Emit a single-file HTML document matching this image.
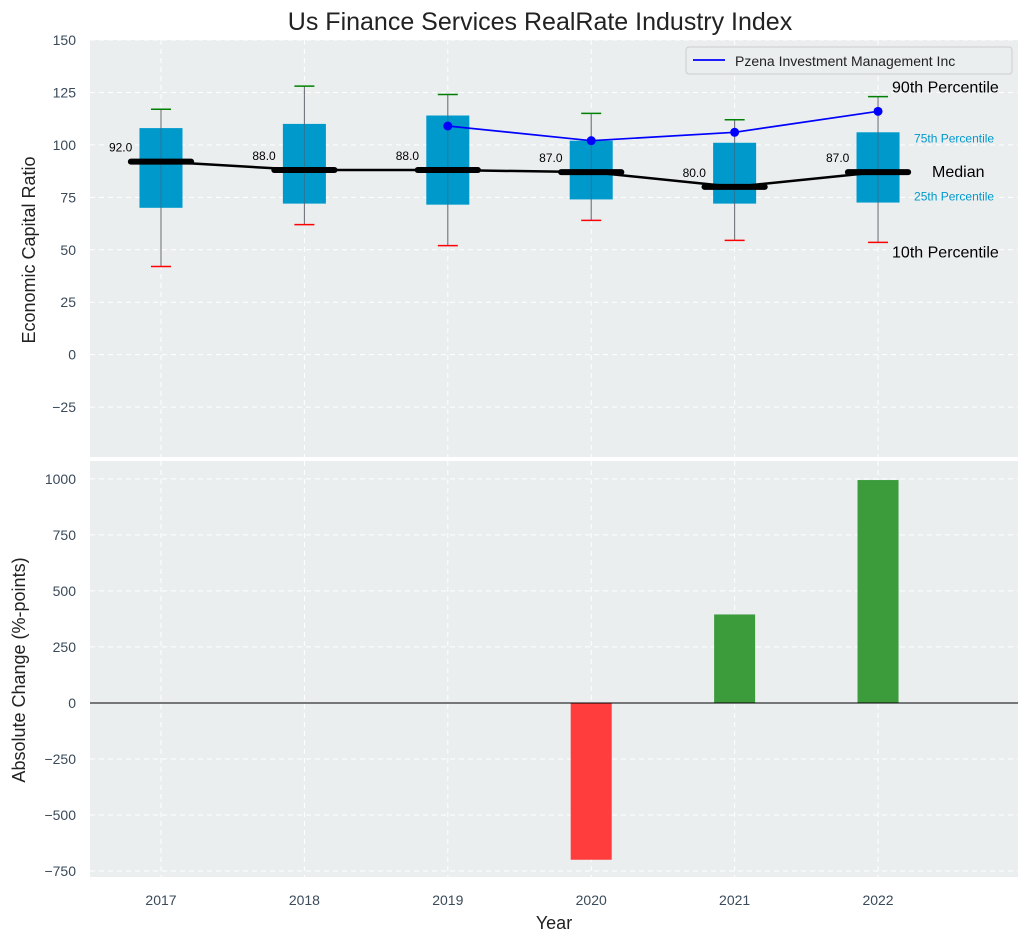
<!DOCTYPE html>
<html><head><meta charset="utf-8"><style>
body{margin:0;background:#fff;}
svg{font-family:"Liberation Sans","DejaVu Sans",sans-serif;}
</style></head><body>
<svg id="chart" width="1029" height="942" xmlns="http://www.w3.org/2000/svg"></svg>
<script>
const years=[2017,2018,2019,2020,2021,2022];
const p10=[42,62,52,64,54.5,53.5];
const p25=[70,72,71.5,74,72,72.5];
const med=[92,88,88,87,80,87];
const p75=[108,110,114,102,101,106];
const p90=[117,128,124,115,112,123];
const pzYears=[2019,2020,2021,2022];
const pzVals=[109,102,106,116];
const changes=[null,null,null,-700,395,995];
const topTicks=[150,125,100,75,50,25,0,-25];
const botTicks=[1000,750,500,250,0,-250,-500,-750];

const svg=document.getElementById('chart');
const NS='http://www.w3.org/2000/svg';
function el(tag,attrs,parent,text){const e=document.createElementNS(NS,tag);for(const k in attrs)e.setAttribute(k,attrs[k]);if(text!==undefined)e.textContent=text;(parent||svg).appendChild(e);return e;}
const L=90,R=1018;
const X0=2016.505,X1=2022.976;
const X=v=>L+(v-X0)/(X1-X0)*(R-L);
const T0=40,T1=457,B0=461,B1=877;
const Yt=v=>T0+(150-v)/(150-(-48.8))*(T1-T0);
const Yb=v=>B0+(1080-v)/(1080-(-777))*(B1-B0);

let t=el('text',{x:540,y:30,'text-anchor':'middle','font-size':25,fill:'#222'},svg,'Us Finance Services RealRate Industry Index');


let pt=el('rect',{x:L,y:T0,width:R-L,height:T1-T0,fill:'#eaeeef'});

let pb=el('rect',{x:L,y:B0,width:R-L,height:B1-B0,fill:'#eaeeef'});


topTicks.forEach(v=>{const y=Yt(v);
 el('line',{x1:L,x2:R,y1:y,y2:y,stroke:'#fff','stroke-dasharray':'5,4','stroke-width':1});
 const tx=el('text',{x:L-14,y:y+5,'text-anchor':'end','font-size':14,fill:'#3a4a5a'},svg,v<0?'\u2212'+(-v):String(v));
 });
botTicks.forEach(v=>{const y=Yb(v);
 el('line',{x1:L,x2:R,y1:y,y2:y,stroke:'#fff','stroke-dasharray':'5,4','stroke-width':1});
 const tx=el('text',{x:L-14,y:y+5,'text-anchor':'end','font-size':14,fill:'#3a4a5a'},svg,v<0?'\u2212'+(-v):String(v));
 });
years.forEach(yr=>{const x=X(yr);
 el('line',{x1:x,x2:x,y1:T0,y2:T1,stroke:'#fff','stroke-dasharray':'5,4'});
 el('line',{x1:x,x2:x,y1:B0,y2:B1,stroke:'#fff','stroke-dasharray':'5,4'});
 const tx=el('text',{x:x,y:905,'text-anchor':'middle','font-size':14,fill:'#3a4a5a'},svg,String(yr));
 });

const bw=0.3;
years.forEach((yr,i)=>{const x=X(yr);const hw=(X(yr+bw/2)-X(yr));
 const g=el('g',{});
 el('line',{x1:x,x2:x,y1:Yt(p10[i]),y2:Yt(p90[i]),stroke:'#888','stroke-width':1},g);
 el('rect',{x:x-hw,y:Yt(p75[i]),width:2*hw,height:Yt(p25[i])-Yt(p75[i]),fill:'#0099cc'},g);
 el('line',{x1:x,x2:x,y1:Yt(p10[i]),y2:Yt(p90[i]),stroke:'#556',opacity:0.5,'stroke-width':1},g);
 el('line',{x1:x-10,x2:x+10,y1:Yt(p90[i]),y2:Yt(p90[i]),stroke:'green','stroke-width':1.5},g);
 el('line',{x1:x-10,x2:x+10,y1:Yt(p10[i]),y2:Yt(p10[i]),stroke:'red','stroke-width':1.5},g);
 el('line',{x1:X(yr-0.21),x2:X(yr+0.21),y1:Yt(med[i]),y2:Yt(med[i]),stroke:'#000','stroke-width':6,'stroke-linecap':'round'},g);
 el('text',{x:X(yr-0.2),y:Yt(med[i])-10,'text-anchor':'end','font-size':12,fill:'#000'},g,med[i].toFixed(1));
});
let mp=el('polyline',{points:years.map((yr,i)=>X(yr)+','+Yt(med[i])).join(' '),fill:'none',stroke:'#000','stroke-width':2.5});

let pz=el('polyline',{points:pzYears.map((yr,i)=>X(yr)+','+Yt(pzVals[i])).join(' '),fill:'none',stroke:'blue','stroke-width':1.7});

pzYears.forEach((yr,i)=>{const c=el('circle',{cx:X(yr),cy:Yt(pzVals[i]),r:4.5,fill:'blue'});
 });

const li=years.length-1, ax=X(2022);
[['90th Percentile',Yt(p90[li])-4,ax+14,16,'#000'],['75th Percentile',Yt(p75[li])+10,ax+36,12,'#0099cc'],['Median',Yt(med[li])+5,ax+54,16,'#000'],['25th Percentile',Yt(p25[li])-2,ax+36,12,'#0099cc'],['10th Percentile',Yt(p10[li])+15,ax+14,16,'#000']].forEach(a=>{
 const tx=el('text',{x:a[2],y:a[1],'font-size':a[3],fill:a[4]},svg,a[0]);
 });

const lg=el('g',{});
el('rect',{x:686,y:47,width:326,height:27,rx:3,fill:'#eaeeef',stroke:'#ccc'},lg);
el('line',{x1:693,x2:725,y1:60,y2:60,stroke:'blue','stroke-width':1.7},lg);
el('text',{x:735,y:66,'font-size':14,fill:'#222'},lg,'Pzena Investment Management Inc');

const barW=0.286;
years.forEach((yr,i)=>{if(changes[i]===null)return;const v=changes[i];
 const r=el('rect',{x:X(yr-barW/2),y:Math.min(Yb(v),Yb(0)),width:X(yr+barW/2)-X(yr-barW/2),height:Math.abs(Yb(v)-Yb(0)),fill:v<0?'#ff3d3d':'#3c9c3c'});
 });
el('line',{x1:L,x2:R,y1:Yb(0),y2:Yb(0),stroke:'#000','stroke-width':1});

let a1=el('text',{x:35,y:250,'text-anchor':'middle','font-size':18,fill:'#222',transform:'rotate(-90 35 250)'},svg,'Economic Capital Ratio');

let a2=el('text',{x:25,y:670,'text-anchor':'middle','font-size':18,fill:'#222',transform:'rotate(-90 25 670)'},svg,'Absolute Change (%-points)');

let a3=el('text',{x:554,y:929,'text-anchor':'middle','font-size':18,fill:'#222'},svg,'Year');

</script>
</body></html>
